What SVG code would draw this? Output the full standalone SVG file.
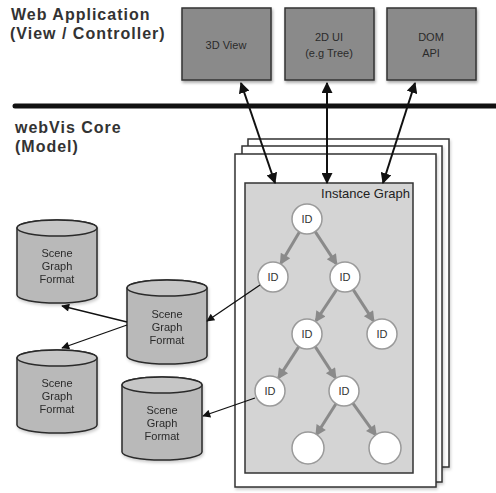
<svg xmlns="http://www.w3.org/2000/svg" width="496" height="493" viewBox="0 0 496 493">
<defs>
<filter id="sh" x="-20%" y="-20%" width="140%" height="140%"><feDropShadow dx="1" dy="2" stdDeviation="1.5" flood-color="#000" flood-opacity="0.35"/></filter>
<filter id="sh2" x="-20%" y="-20%" width="140%" height="140%"><feDropShadow dx="1" dy="2" stdDeviation="1.5" flood-color="#000" flood-opacity="0.2"/></filter>
<marker id="ab" viewBox="0 0 10 10" refX="9" refY="5" markerWidth="11" markerHeight="11" markerUnits="userSpaceOnUse" orient="auto-start-reverse"><path d="M0,0 L10,5 L0,10 z" fill="#111"/></marker>
<marker id="at" viewBox="0 0 10 10" refX="9" refY="5" markerWidth="10" markerHeight="8" markerUnits="userSpaceOnUse" orient="auto"><path d="M0,0 L10,5 L0,10 z" fill="#111"/></marker>
<marker id="ag" viewBox="0 0 10 10" refX="8" refY="5" markerWidth="13" markerHeight="11" markerUnits="userSpaceOnUse" orient="auto"><path d="M0,0 L10,5 L0,10 z" fill="#8a8a8a"/></marker>
</defs>
<style>
.title{font-family:"Liberation Sans",Arial,sans-serif;font-weight:bold;font-size:16px;letter-spacing:1px;fill:#333}
.box{fill:#8a8a8a;stroke:#333;stroke-width:1.5}
.lbl{font-family:"Liberation Sans",Arial,sans-serif;font-size:11px;fill:#2a2a2a;text-anchor:middle}
.page{fill:#fff;stroke:#333;stroke-width:1.5}
.cyl{fill:#b9b9b9;stroke:#2a2a2a;stroke-width:1.5}
.cyltop{fill:#c6c6c6;stroke:#2a2a2a;stroke-width:1.5}
.node{fill:#fff;stroke:#9a9a9a;stroke-width:1.5}
.id{font-family:"Liberation Sans",Arial,sans-serif;font-size:11px;fill:#333;text-anchor:middle}
.bi{stroke:#111;stroke-width:2;fill:none;marker-start:url(#ab);marker-end:url(#ab)}
.thin{stroke:#111;stroke-width:1.3;fill:none;marker-end:url(#at)}
.tree{stroke:#8a8a8a;stroke-width:3;fill:none;marker-end:url(#ag)}
</style>
<rect width="496" height="493" fill="#fff"/>
<g id="titles">
<text class="title" x="11" y="20">Web Application</text>
<text class="title" x="10" y="39">(View / Controller)</text>
<text class="title" x="15" y="133">webVis Core</text>
<text class="title" x="15" y="152">(Model)</text>
</g>
<line id="divider" x1="15" y1="106" x2="496" y2="106" stroke="#111" stroke-width="5" stroke-linecap="round"/>
<g id="view3d"><rect class="box" x="182" y="8" width="89" height="72" filter="url(#sh)"/><text class="lbl" x="226" y="49">3D View</text></g>
<g id="ui2d"><rect class="box" x="285" y="8" width="89" height="72" filter="url(#sh)"/><text class="lbl" x="329" y="41">2D UI</text><text class="lbl" x="329" y="57">(e.g Tree)</text></g>
<g id="domapi"><rect class="box" x="387" y="8" width="89" height="72" filter="url(#sh)"/><text class="lbl" x="431" y="41">DOM</text><text class="lbl" x="431" y="57">API</text></g>
<g id="pages">
<rect class="page" x="248" y="139" width="201" height="328" filter="url(#sh2)"/>
<rect class="page" x="242" y="146" width="200" height="336" filter="url(#sh2)"/>
<rect class="page" x="235" y="154" width="201" height="333" filter="url(#sh2)"/>
</g>
<g id="instance-graph">
<rect x="245" y="183" width="168" height="290" fill="#d4d4d4" stroke="#333" stroke-width="1.5"/>
<text x="410" y="198" font-family="'Liberation Sans',Arial,sans-serif" font-size="13" fill="#222" text-anchor="end">Instance Graph</text>
</g>
<g id="tree-edges">
<line class="tree" x1="299.4" y1="232" x2="281" y2="263"/>
<line class="tree" x1="315.2" y1="231.6" x2="336.2" y2="263.6"/>
<line class="tree" x1="336.7" y1="289.5" x2="316.1" y2="320.7"/>
<line class="tree" x1="353.2" y1="289.6" x2="373.3" y2="320.6"/>
<line class="tree" x1="298.8" y1="346.6" x2="278.7" y2="377.6"/>
<line class="tree" x1="315.2" y1="346.6" x2="335.3" y2="377.6"/>
<line class="tree" x1="336" y1="403.7" x2="316.5" y2="434.5"/>
<line class="tree" x1="352.8" y1="403.2" x2="375.6" y2="434.8"/>
</g>
<g id="n1"><circle class="node" cx="307" cy="219" r="15"/><text class="id" x="307" y="223">ID</text></g>
<g id="n2"><circle class="node" cx="273" cy="277" r="15"/><text class="id" x="273" y="281">ID</text></g>
<g id="n3"><circle class="node" cx="345" cy="277" r="15"/><text class="id" x="345" y="281">ID</text></g>
<g id="n4"><circle class="node" cx="307" cy="334" r="15"/><text class="id" x="307" y="338">ID</text></g>
<g id="n5"><circle class="node" cx="382" cy="334" r="15"/><text class="id" x="382" y="338">ID</text></g>
<g id="n6"><circle class="node" cx="270" cy="391" r="15"/><text class="id" x="270" y="395">ID</text></g>
<g id="n7"><circle class="node" cx="344" cy="391" r="15"/><text class="id" x="344" y="395">ID</text></g>
<g id="n8"><circle class="node" cx="308" cy="448" r="16"/></g>
<g id="n9"><circle class="node" cx="385" cy="448" r="16"/></g>
<g id="cylA" filter="url(#sh2)"><path class="cyl" d="M17,228 a40,8 0 0 1 80,0 v67 a40,8 0 0 1 -80,0 z"/><ellipse class="cyltop" cx="57" cy="228" rx="40" ry="8"/><text class="lbl" x="57" y="257">Scene</text><text class="lbl" x="57" y="270">Graph</text><text class="lbl" x="57" y="283">Format</text></g>
<g id="cylB" filter="url(#sh2)"><path class="cyl" d="M127,288 a40,8 0 0 1 80,0 v68 a40,8 0 0 1 -80,0 z"/><ellipse class="cyltop" cx="167" cy="288" rx="40" ry="8"/><text class="lbl" x="167" y="318">Scene</text><text class="lbl" x="167" y="331">Graph</text><text class="lbl" x="167" y="344">Format</text></g>
<g id="cylC" filter="url(#sh2)"><path class="cyl" d="M17,358 a40,8 0 0 1 80,0 v67 a40,8 0 0 1 -80,0 z"/><ellipse class="cyltop" cx="57" cy="358" rx="40" ry="8"/><text class="lbl" x="57" y="387">Scene</text><text class="lbl" x="57" y="400">Graph</text><text class="lbl" x="57" y="413">Format</text></g>
<g id="cylD" filter="url(#sh2)"><path class="cyl" d="M122,385 a40,8 0 0 1 80,0 v67 a40,8 0 0 1 -80,0 z"/><ellipse class="cyltop" cx="162" cy="385" rx="40" ry="8"/><text class="lbl" x="162" y="414">Scene</text><text class="lbl" x="162" y="427">Graph</text><text class="lbl" x="162" y="440">Format</text></g>
<g id="connectors">
<line class="bi" x1="241" y1="83" x2="275" y2="183"/>
<line class="bi" x1="327" y1="83" x2="327" y2="183"/>
<line class="bi" x1="415" y1="83" x2="383" y2="183"/>
<line class="thin" x1="260" y1="285" x2="207" y2="321"/>
<line class="thin" x1="127" y1="322" x2="62" y2="306"/>
<line class="thin" x1="127" y1="325" x2="62" y2="348"/>
<line class="thin" x1="255" y1="398" x2="203" y2="416"/>
</g>
</svg>
